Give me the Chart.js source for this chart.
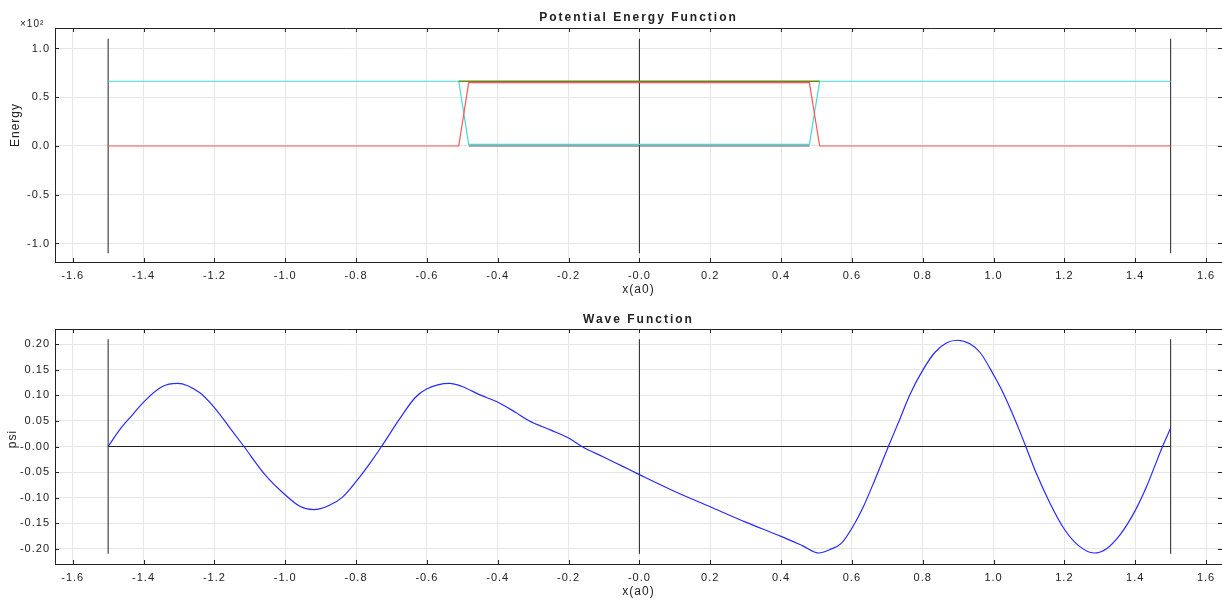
<!DOCTYPE html>
<html>
<head>
<meta charset="utf-8">
<script src="https://cdn.jsdelivr.net/npm/chart.js@4.4.1/dist/chart.umd.min.js"></script>
<style>
  html, body { margin: 0; padding: 0; background: #fff; }
  #wrap { position: relative; width: 1222px; height: 601px; }
  canvas { position: absolute; left: 0; display: block; }
  #energy { top: 0; }
  #wave { top: 300px; }
</style>
</head>
<body>
<div id="wrap">
  <canvas id="energy" width="1222" height="300"></canvas>
  <canvas id="wave" width="1222" height="301"></canvas>
</div>
<script>
// shared x axis ticks
const xTicks = [-1.6, -1.4, -1.2, -1.0, -0.8, -0.6, -0.4, -0.2, 0, 0.2, 0.4, 0.6, 0.8, 1.0, 1.2, 1.4, 1.6]
const xTickLabels = ['-1.6', '-1.4', '-1.2', '-1.0', '-0.8', '-0.6', '-0.4', '-0.2', '-0.0',
  '0.2', '0.4', '0.6', '0.8', '1.0', '1.2', '1.4', '1.6']

// energy panel (values in energy units, axis shown x10^2)
const energyTicks = [-100, -50, 0, 50, 100]
const energyTickLabels = ['-1.0', '-0.5', '0.0', '0.5', '1.0']
const wallX = [-1.5, 0, 1.5]
const wallE = [-110, 110]
const wellX = [-1.5, -0.51, -0.482, 0.48, 0.509, 1.5]
const redE = [0, 0, 65, 65, 0, 0]
const cyanE = [66.4, 66.4, 1.7, 1.7, 66.4, 66.4]
const topX = [-0.51, 0.509]
const greenE = [66.4, 66.4]
const floorX = [-0.482, 0.48]
const grayE = [0, 0]

// wave function panel
const psiTicks = [-0.2, -0.15, -0.1, -0.05, 0, 0.05, 0.1, 0.15, 0.2]
const psiTickLabels = ['-0.20', '-0.15', '-0.10', '-0.05', '-0.00', '0.05', '0.10', '0.15', '0.20']
const psiWall = [-0.21, 0.21]
const baseX = [-1.5, 1.5]
const baseY = [0, 0]
const psiX = [-1.5, -1.466, -1.43, -1.40, -1.348, -1.304, -1.241, -1.20, -1.16, -1.1165,
  -1.056, -1.001, -0.959, -0.92, -0.878, -0.838, -0.799, -0.76, -0.728,
  -0.678, -0.634, -0.602, -0.536, -0.5025, -0.45, -0.398, -0.35, -0.313, -0.25, -0.201, -0.1625,
  -0.1, -0.05, 0.0, 0.1, 0.2, 0.3, 0.4, 0.46, 0.507,
  0.537, 0.571, 0.601, 0.631, 0.665, 0.703, 0.735, 0.764, 0.799, 0.834, 0.868, 0.898,
  0.933, 0.962, 1.002, 1.022, 1.047, 1.071, 1.091, 1.121, 1.16, 1.2, 1.24, 1.284,
  1.319, 1.358, 1.401, 1.433, 1.457, 1.477, 1.5]
const psiY = [0, 0.034, 0.063, 0.087, 0.117, 0.1235, 0.105, 0.076, 0.040, 0,
  -0.056, -0.094, -0.117, -0.1235, -0.116, -0.099, -0.068, -0.032, 0,
  0.053, 0.095, 0.112, 0.1235, 0.118, 0.101, 0.086, 0.067, 0.051, 0.032, 0.017, 0,
  -0.021, -0.038, -0.055, -0.088, -0.118, -0.148, -0.176, -0.194, -0.2085,
  -0.202, -0.189, -0.159, -0.120, -0.065, 0, 0.053, 0.102, 0.148, 0.184, 0.203, 0.208,
  0.201, 0.184, 0.138, 0.112, 0.0745, 0.035, 0, -0.053, -0.112, -0.162, -0.194, -0.2085,
  -0.200, -0.172, -0.124, -0.077, -0.035, 0, 0.036]

const FONT = '"Liberation Sans", Arial, sans-serif'
const INK = '#222'
Chart.defaults.font.family = FONT
Chart.defaults.color = INK

function pts(xs, ys) {
  return xs.map((x, i) => ({ x: x, y: ys[i] }))
}

function line(data, color, width, smooth) {
  const ds = { data: data, borderColor: color, borderWidth: width || 1.2, showLine: true,
    pointRadius: 0, fill: false, tension: 0 }
  if (smooth) ds.cubicInterpolationMode = 'monotone'
  return ds
}

// box top edge, inward tick marks and the hand placed labels
const frame = {
  id: 'frame',
  beforeDraw(chart) {
    chart.ctx.letterSpacing = '1px'
  },
  afterDraw(chart, args, o) {
    const { ctx, chartArea: a, scales: { x, y } } = chart
    ctx.save()
    ctx.strokeStyle = INK
    ctx.lineWidth = 1
    ctx.beginPath()
    ctx.moveTo(a.left, a.top + 0.5)
    ctx.lineTo(a.right, a.top + 0.5)
    x.ticks.forEach(t => {
      const px = Math.round(x.getPixelForValue(t.value)) + 0.5
      ctx.moveTo(px, a.top); ctx.lineTo(px, a.top + 4)
      ctx.moveTo(px, a.bottom); ctx.lineTo(px, a.bottom - 4)
    })
    y.ticks.forEach(t => {
      const py = Math.round(y.getPixelForValue(t.value)) + 0.5
      ctx.moveTo(a.left, py); ctx.lineTo(a.left + 4, py)
      ctx.moveTo(a.right, py); ctx.lineTo(a.right - 4, py)
    })
    ctx.stroke()

    ctx.fillStyle = INK
    ctx.textAlign = 'center'
    ctx.textBaseline = 'middle'
    ctx.letterSpacing = '2px'
    ctx.font = 'bold 12px ' + FONT
    ctx.fillText(o.title, (a.left + a.right) / 2, o.titleY)

    ctx.letterSpacing = '1px'
    ctx.font = '12px ' + FONT
    ctx.save()
    ctx.translate(o.yTitleX, o.yTitleY)
    ctx.rotate(-Math.PI / 2)
    ctx.fillText(o.yTitle, 0, 0)
    ctx.restore()

    if (o.exponent) {
      ctx.textAlign = 'left'
      ctx.textBaseline = 'alphabetic'
      ctx.font = '10px ' + FONT
      ctx.fillText(o.exponent, 20, 27)
    }
    ctx.restore()
  }
}

function makeChart(canvas, cfg) {
  return new Chart(canvas, {
    type: 'scatter',
    data: { datasets: cfg.datasets },
    options: {
      responsive: false,
      animation: false,
      devicePixelRatio: 1,
      layout: { padding: { top: cfg.top, right: 0, bottom: 0, left: 0 } },
      plugins: {
        legend: { display: false },
        tooltip: { enabled: false },
        frame: cfg.frame
      },
      scales: {
        x: {
          type: 'linear', min: -1.65, max: 1.645,
          afterBuildTicks: s => { s.ticks = xTicks.map(v => ({ value: v })) },
          afterFit: s => { s.height = cfg.xAxisH; s.paddingLeft = 0; s.paddingRight = 0 },
          grid: { color: '#e6e6e6', lineWidth: 1, drawTicks: false },
          border: { color: INK, width: 1 },
          ticks: { padding: 7, color: INK, font: { size: 11 }, maxRotation: 0, autoSkip: false,
            callback: v => xTickLabels[xTicks.indexOf(v)] },
          title: { display: true, text: 'x(a0)', color: INK, font: { size: 12 },
            padding: { top: 0, bottom: cfg.xTitlePad } }
        },
        y: {
          type: 'linear', min: cfg.yMin, max: cfg.yMax,
          afterBuildTicks: s => { s.ticks = cfg.yTicks.map(v => ({ value: v })) },
          afterFit: s => { s.width = 55 },
          grid: { color: '#e6e6e6', lineWidth: 1, drawTicks: false },
          border: { color: INK, width: 1 },
          ticks: { padding: 5, color: INK, font: { size: 11 },
            callback: v => cfg.yLabels[cfg.yTicks.indexOf(v)] }
        }
      }
    },
    plugins: [frame]
  })
}

// first dataset is drawn on top
const energyChart = makeChart(document.getElementById('energy'), {
  top: 28, xAxisH: 38, xTitlePad: 3,
  yMin: -119, yMax: 121, yTicks: energyTicks, yLabels: energyTickLabels,
  frame: { title: 'Potential Energy Function', titleY: 18, yTitle: 'Energy',
    yTitleX: 16, yTitleY: 125, exponent: '×10²' },
  datasets: [
    line(pts(topX, greenE), 'rgb(105,135,25)', 1.5),
    line(pts(wellX, redE), 'rgb(255,85,85)'),
    line(pts(wellX, cyanE), 'rgb(70,215,215)'),
    line(pts(floorX, grayE), 'rgb(90,90,90)'),
    ...wallX.map(w => line(pts([w, w], wallE), INK, 1))
  ]
})

const waveChart = makeChart(document.getElementById('wave'), {
  top: 29, xAxisH: 37, xTitlePad: 2,
  yMin: -0.23, yMax: 0.23, yTicks: psiTicks, yLabels: psiTickLabels,
  frame: { title: 'Wave Function', titleY: 19.5, yTitle: 'psi', yTitleX: 13, yTitleY: 139 },
  datasets: [
    line(pts(psiX, psiY), 'rgb(40,40,255)', 1.2, true),
    line(pts(baseX, baseY), INK, 1),
    ...wallX.map(w => line(pts([w, w], psiWall), INK, 1))
  ]
})
</script>
</body>
</html>
